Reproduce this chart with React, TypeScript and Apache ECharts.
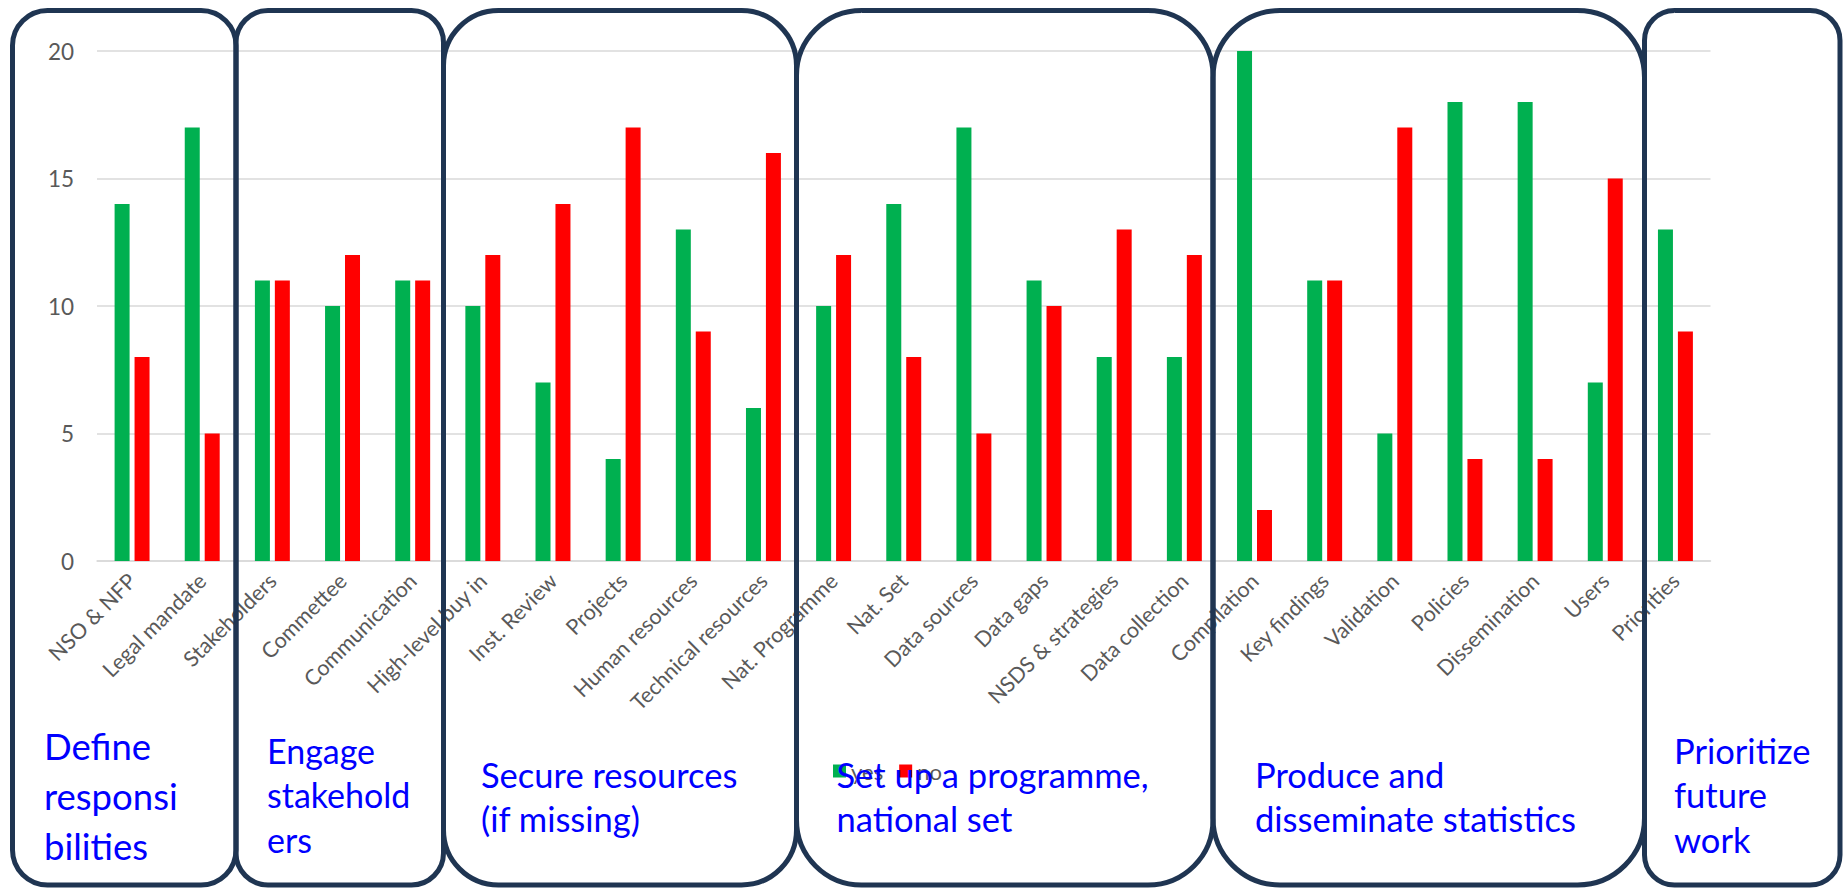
import React, { useEffect, useRef } from "react";
import * as echarts from "echarts";

const categories = [
  "NSO & NFP",
  "Legal mandate",
  "Stakeholders",
  "Commettee",
  "Communication",
  "High-level buy in",
  "Inst. Review",
  "Projects",
  "Human resources",
  "Technical resources",
  "Nat. Programme",
  "Nat. Set",
  "Data sources",
  "Data gaps",
  "NSDS & strategies",
  "Data collection",
  "Compilation",
  "Key findings",
  "Validation",
  "Policies",
  "Dissemination",
  "Users",
  "Priorities",
];

const yesValues = [14, 17, 11, 10, 11, 10, 7, 4, 13, 6, 10, 14, 17, 11, 8, 8, 20, 11, 5, 18, 18, 7, 13];
const noValues = [8, 5, 11, 12, 11, 12, 14, 17, 9, 16, 12, 8, 5, 10, 13, 12, 2, 11, 17, 4, 4, 15, 9];

const seriesNames = ["yes", "no"];

const groupTitles = [
  "Define\nresponsi\nbilities",
  "Engage\nstakehold\ners",
  "Secure resources\n(if missing)",
  "Set up a programme,\nnational set",
  "Produce and\ndisseminate statistics",
  "Prioritize\nfuture\nwork",
];

// layout (pixels)
const BOX_EDGES = [12.5, 236, 443.5, 796.5, 1213, 1644.5, 1840];
const BOX_TOP = 10.5;
const BOX_BOTTOM = 885;
const TITLE_LAYOUT = [
  { x: 44, y: 721, size: 36.5, lh: 50 },
  { x: 267, y: 728, size: 34, lh: 44.5 },
  { x: 481, y: 752, size: 34.5, lh: 44 },
  { x: 836.5, y: 752, size: 34.5, lh: 44 },
  { x: 1255, y: 752, size: 34.5, lh: 44 },
  { x: 1674, y: 728, size: 34.5, lh: 44.5 },
];

const FONT = "Lato, 'Noto Sans', sans-serif";

export default function App() {
  const ref = useRef<HTMLDivElement>(null);

  useEffect(() => {
    if (!ref.current) return;
    const chart = echarts.init(ref.current, undefined, { renderer: "svg" });

    const graphics: any[] = [];
    for (let i = 0; i < BOX_EDGES.length - 1; i++) {
      const x0 = BOX_EDGES[i];
      const x1 = BOX_EDGES[i + 1];
      const w = x1 - x0;
      graphics.push({
        type: "rect",
        z: 100,
        silent: true,
        shape: { x: x0, y: BOX_TOP, width: w, height: BOX_BOTTOM - BOX_TOP, r: Math.round(w * 0.155) },
        style: { fill: "transparent", stroke: "#1F3552", lineWidth: 5 },
      });
    }
    groupTitles.forEach((t, i) => {
      const L = TITLE_LAYOUT[i];
      graphics.push({
        type: "text",
        z: 110,
        silent: true,
        x: L.x,
        y: L.y,
        style: {
          text: t,
          fill: "#0000FF",
          font: `${L.size}px ${FONT}`,
          lineHeight: L.lh,
          verticalAlign: "top",
          align: "left",
        },
      });
    });

    chart.setOption({
      animation: false,
      backgroundColor: "#ffffff",
      grid: { left: 97, right: 132.5, top: 51, bottom: 329, containLabel: false },
      legend: {
        data: seriesNames,
        left: 833,
        top: 760,
        padding: 0,
        itemWidth: 13,
        itemHeight: 13,
        itemGap: 16,
        icon: "rect",
        textStyle: { fontSize: 22, color: "#595959", fontFamily: FONT },
        z: 5,
      },
      xAxis: {
        type: "category",
        data: categories,
        axisLine: { show: true, lineStyle: { color: "#D9D9D9", width: 1.5 } },
        axisTick: { show: false },
        axisLabel: {
          interval: 0,
          rotate: 45,
          margin: 16,
          fontSize: 21.5,
          color: "#595959",
          fontFamily: FONT,
        },
      },
      yAxis: {
        type: "value",
        min: 0,
        max: 20,
        interval: 5,
        axisLine: { show: false },
        axisTick: { show: false },
        splitLine: { lineStyle: { color: "#D9D9D9", width: 1.5 } },
        axisLabel: { fontSize: 22.5, color: "#595959", fontFamily: FONT, margin: 23 },
      },
      series: [
        {
          name: seriesNames[0],
          type: "bar",
          data: yesValues,
          barWidth: 15,
          barGap: "33%",
          itemStyle: { color: "#00B050" },
        },
        {
          name: seriesNames[1],
          type: "bar",
          data: noValues,
          barWidth: 15,
          barGap: "33%",
          itemStyle: { color: "#FF0000" },
        },
      ],
      graphic: graphics,
    });

    return () => chart.dispose();
  }, []);

  return (
    <div
      ref={ref}
      style={{ position: "fixed", left: 0, top: 0, width: 1843, height: 890, background: "#fff" }}
    />
  );
}
